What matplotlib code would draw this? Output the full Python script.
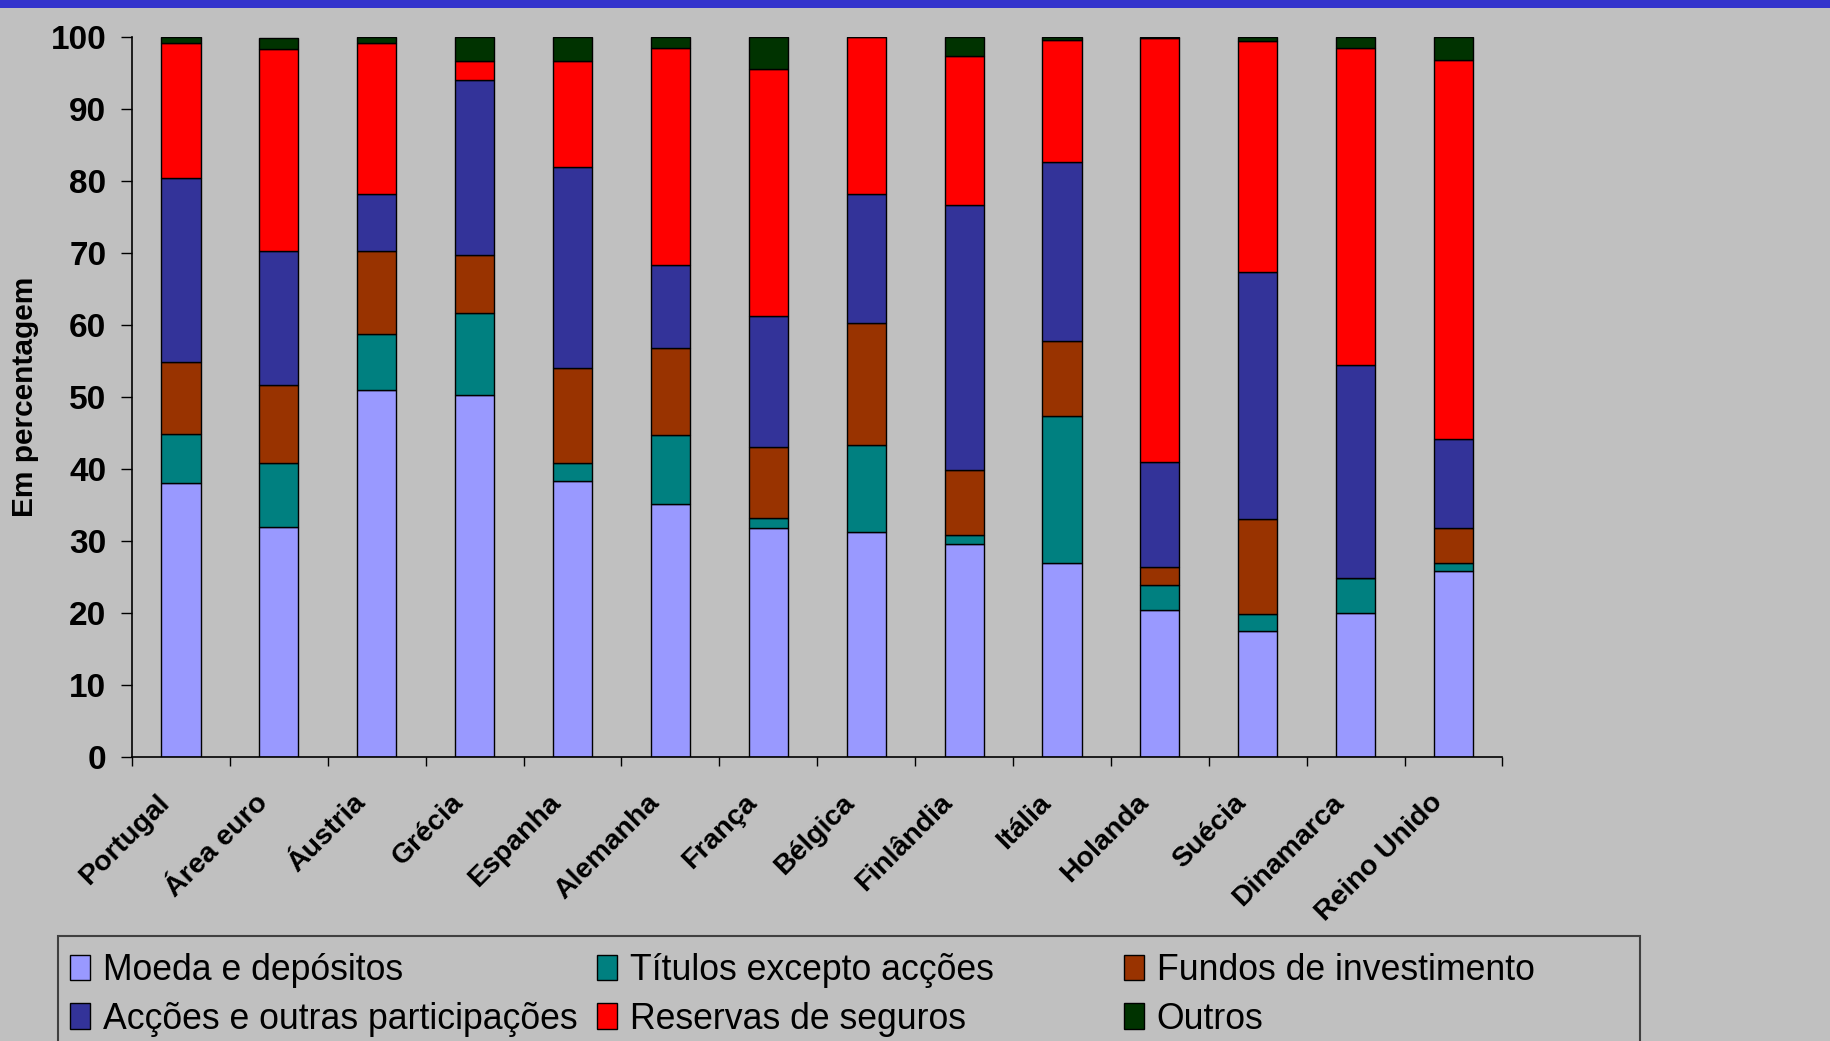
import numpy as np
import pandas as pd
from pandas import DataFrame
import matplotlib
matplotlib.use('Agg')
import matplotlib.pyplot as plt
import matplotlib.transforms as mtransforms
from matplotlib.patches import Rectangle

plt.rcParams['font.family'] = ['Liberation Sans', 'DejaVu Sans']

paises = ['Portugal', 'Área euro', 'Áustria', 'Grécia', 'Espanha', 'Alemanha', 'França',
          'Bélgica', 'Finlândia', 'Itália', 'Holanda', 'Suécia', 'Dinamarca', 'Reino Unido']

moeda = [38.1, 32.0, 51.0, 50.3, 38.3, 35.2, 31.8, 31.2, 29.6, 27.0, 20.4, 17.5, 20.0, 25.9]
titulos = [6.7, 8.9, 7.8, 11.3, 2.6, 9.5, 1.4, 12.2, 1.3, 20.3, 3.5, 2.4, 4.9, 1.1]
fundos = [10.1, 10.7, 11.5, 8.1, 13.1, 12.1, 9.8, 16.9, 8.9, 10.5, 2.5, 13.2, 0.0, 4.8]
accoes = [25.5, 18.7, 7.9, 24.3, 28.0, 11.6, 18.2, 17.9, 36.9, 24.9, 14.6, 34.2, 29.5, 12.3]
reservas = [18.7, 28.0, 20.9, 2.6, 14.6, 30.1, 34.4, 21.8, 20.6, 16.9, 58.8, 32.1, 44.1, 52.7]
outros = [0.9, 1.5, 0.9, 3.4, 3.4, 1.5, 4.4, 0.0, 2.7, 0.4, 0.2, 0.6, 1.5, 3.2]

series = ['Moeda e depósitos', 'Títulos excepto acções', 'Fundos de investimento',
          'Acções e outras participações', 'Reservas de seguros', 'Outros']
cores = ['#9999FF', '#008080', '#993300', '#333399', '#FF0000', '#003300']

df = DataFrame({series[0]: moeda, series[1]: titulos, series[2]: fundos,
                series[3]: accoes, series[4]: reservas, series[5]: outros}, index=paises)

W, H = 1831, 1041
fig = plt.figure(figsize=(W / 100, H / 100), dpi=100, facecolor='#C0C0C0')
ax = fig.add_axes([132 / W, 1 - 757 / H, (1502.5 - 132) / W, (757 - 37) / H])
ax.set_facecolor('#C0C0C0')

x = np.arange(len(paises))
base = np.zeros(len(paises))
handles = []
for s, c in zip(series, cores):
    b = ax.bar(x, df[s].values, bottom=base, width=0.40, color=c, edgecolor='black', linewidth=1.0)
    handles.append(b)
    base = base + df[s].values

ax.set_xlim(-0.5, len(paises) - 0.5)
ax.set_ylim(0, 100)
ax.set_yticks(range(0, 101, 10))
ax.tick_params(axis='y', direction='out', length=8, width=1.0, pad=10.5, labelsize=24)
for lab in ax.get_yticklabels():
    lab.set_fontweight('bold')

ax.set_xticks(x)
ax.set_xticklabels(paises, rotation=45, ha='right', fontsize=20.5, fontweight='bold')
ax.set_xticks(np.arange(-0.5, len(paises)), minor=True)
ax.tick_params(axis='x', which='major', length=0, pad=23.5)
ax.tick_params(axis='x', which='minor', direction='out', length=6.5, width=1.0)
offset = mtransforms.ScaledTranslation(-0.06, 0, fig.dpi_scale_trans)
for lab in ax.get_xticklabels():
    lab.set_transform(lab.get_transform() + offset)

for sp in ['top', 'right']:
    ax.spines[sp].set_visible(False)
for sp in ['left', 'bottom']:
    ax.spines[sp].set_linewidth(1.2)

ax.set_ylabel('Em percentagem', fontsize=21.5, fontweight='bold')
ax.yaxis.set_label_coords(-0.068, 0.5)

# faixa azul no topo
fig.patches.append(Rectangle((0, 1 - 7.5 / H), 1, 7.5 / H, transform=fig.transFigure,
                             facecolor='#3333CC', edgecolor='none'))

# legenda (3 colunas com largura fixa)
fig.patches.append(Rectangle((58 / W, -0.05), (1640 - 58) / W, 1 - 936 / H + 0.05,
                             transform=fig.transFigure, facecolor='none',
                             edgecolor='#404040', linewidth=1.5))
col_x = [70, 597, 1124]
for j in range(3):
    hs = [handles[j], handles[j + 3]]
    ls = [series[j], series[j + 3]]
    fig.legend(hs, ls, loc='upper left', bbox_to_anchor=(col_x[j] / W, 1 - 953 / H),
               frameon=False, fontsize=25.7, handlelength=0.56, handleheight=0.73,
               handletextpad=0.36, labelspacing=0.38, borderpad=0, borderaxespad=0)

fig.savefig('out.png', dpi=100, facecolor=fig.get_facecolor())
